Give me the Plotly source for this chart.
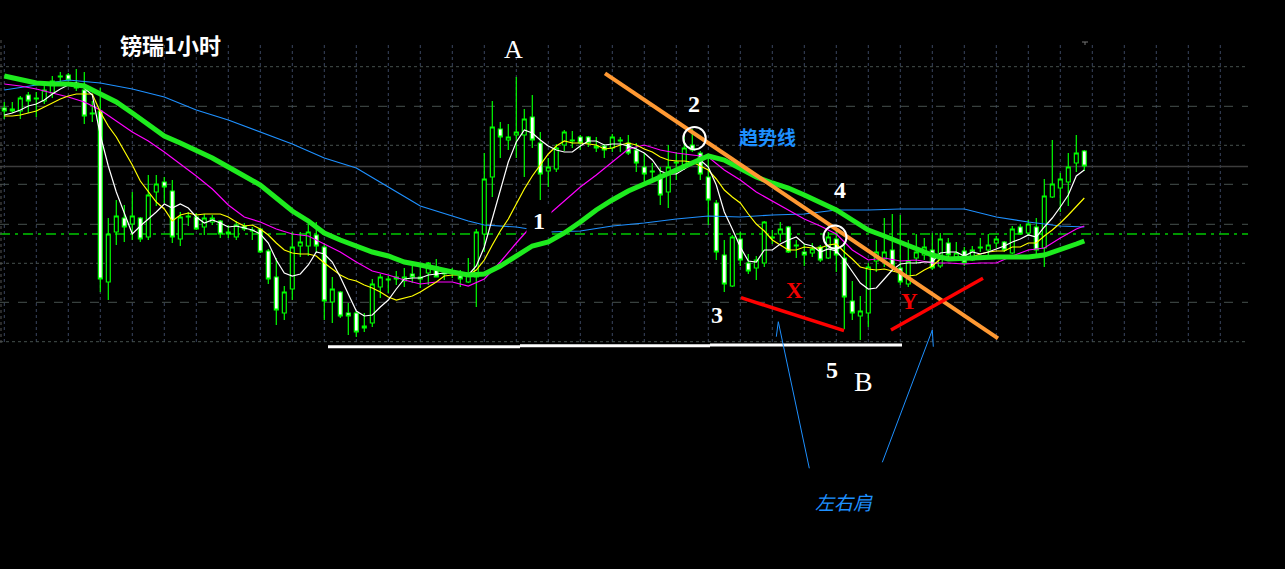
import plotly.graph_objects as go

# Prices are stored as pips below a reference level (REF).
REF = 1.3600
PIP = 0.0001

opens = [108, 109, 111, 95, 98, 101, 93, 77, 75, 83,
         90, 113, 111, 282, 232, 218, 224, 218, 237, 192,
         182, 191, 239, 217, 217, 227, 222, 221, 232, 237,
         226, 231, 229, 251, 277, 313, 289, 246, 246, 235,
         247, 302, 292, 313, 313, 328, 323, 287, 280, 277,
         281, 274, 279, 273, 267, 274, 271, 276, 282, 277,
         234, 177, 129, 140, 135, 135, 117, 143, 171, 169,
         145, 141, 137, 137, 146, 146, 148, 141, 143, 150,
         167, 172, 175, 192, 163, 165, 145, 153, 177, 203,
         255, 286, 239, 263, 268, 263, 238, 234, 227, 246,
         252, 253, 247, 258, 239, 258, 301, 316, 313, 261,
         259, 250, 268, 284, 258, 255, 250, 266, 243, 257,
         251, 260, 248, 250, 243, 242, 253, 227, 233, 227,
         248, 197, 188, 182, 163, 151]
highs = [102, 102, 96, 92, 92, 85, 76, 72, 73, 69,
         72, 101, 88, 218, 200, 205, 192, 217, 175, 175,
         177, 180, 212, 212, 213, 214, 215, 220, 225, 221,
         223, 227, 228, 249, 258, 286, 232, 232, 224, 222,
         243, 277, 291, 303, 311, 313, 279, 274, 276, 271,
         268, 265, 264, 262, 259, 269, 268, 270, 258, 229,
         153, 101, 122, 124, 77, 109, 95, 132, 158, 144,
         130, 131, 135, 136, 137, 144, 134, 137, 135, 143,
         153, 163, 167, 145, 152, 135, 129, 151, 158, 200,
         240, 235, 232, 254, 256, 221, 230, 222, 226, 240,
         244, 243, 245, 232, 231, 245, 281, 296, 263, 240,
         218, 214, 215, 240, 234, 238, 233, 233, 238, 242,
         247, 246, 238, 234, 236, 241, 226, 224, 220, 218,
         179, 140, 173, 153, 135, 150]
lows = [119, 113, 119, 113, 117, 104, 98, 82, 81, 91,
        124, 122, 292, 300, 245, 242, 240, 242, 240, 206,
        203, 243, 246, 226, 230, 235, 225, 238, 238, 240,
        231, 240, 253, 284, 325, 320, 300, 257, 256, 253,
        320, 323, 318, 335, 337, 332, 327, 298, 293, 285,
        287, 283, 288, 285, 277, 280, 278, 287, 283, 307,
        252, 197, 158, 150, 158, 177, 148, 200, 187, 172,
        151, 148, 150, 147, 152, 158, 152, 152, 155, 172,
        182, 178, 205, 208, 180, 170, 152, 180, 225, 260,
        292, 287, 266, 274, 280, 267, 244, 242, 253, 258,
        266, 257, 262, 259, 272, 329, 320, 340, 327, 272,
        267, 270, 285, 287, 264, 260, 270, 268, 259, 258,
        266, 261, 252, 258, 248, 252, 254, 235, 236, 257,
        267, 198, 212, 206, 172, 171]
closes = [111, 111, 98, 101, 99, 90, 81, 76, 80, 88,
          116, 114, 279, 234, 216, 227, 216, 239, 195, 184,
          187, 237, 217, 216, 229, 218, 218, 234, 234, 225,
          229, 230, 252, 279, 310, 292, 247, 242, 232, 246,
          301, 289, 316, 316, 332, 326, 284, 277, 279, 279,
          277, 277, 277, 263, 277, 273, 273, 279, 273, 232,
          179, 127, 137, 137, 132, 119, 140, 174, 167, 148,
          132, 140, 143, 143, 148, 150, 137, 140, 153, 163,
          174, 171, 195, 167, 162, 148, 150, 174, 200, 252,
          284, 237, 260, 271, 260, 222, 237, 229, 252, 245,
          255, 249, 260, 237, 255, 297, 313, 311, 267, 252,
          252, 266, 282, 261, 252, 247, 268, 239, 255, 253,
          263, 250, 247, 245, 239, 250, 229, 234, 224, 250,
          196, 184, 179, 167, 153, 166]

# Moving-average lines (pips below REF)
ma_white = [115, 113, 110, 106, 104, 100, 94, 89, 85, 83,
            88, 95, 135, 166, 192, 214, 234, 226, 219, 212,
            204, 208, 204, 208, 217, 223, 220, 223, 227, 226,
            228, 230, 234, 243, 260, 273, 276, 274, 265, 252,
            254, 262, 277, 294, 311, 316, 315, 307, 300, 289,
            279, 278, 278, 275, 274, 273, 273, 273, 275, 266,
            247, 218, 190, 162, 142, 130, 133, 140, 146, 150,
            152, 152, 146, 141, 141, 145, 144, 144, 146, 149,
            153, 160, 171, 174, 174, 169, 164, 160, 167, 185,
            212, 229, 247, 261, 262, 250, 250, 244, 240, 237,
            244, 246, 252, 249, 251, 260, 272, 283, 289, 288,
            279, 270, 264, 263, 263, 262, 262, 253, 252, 252,
            256, 252, 254, 252, 249, 246, 242, 239, 235, 237,
            227, 218, 207, 195, 176, 170]
ma_yellow = [116, 116, 115, 113, 111, 107, 103, 99, 96, 94,
             94, 94, 112, 126, 137, 151, 165, 181, 192, 202,
             209, 221, 215, 213, 215, 214, 214, 214, 217, 222,
             226, 225, 229, 235, 243, 250, 253, 254, 254, 256,
             263, 269, 275, 279, 281, 285, 288, 292, 297, 300,
             298, 296, 292, 287, 282, 276, 275, 275, 275, 270,
             260, 245, 231, 219, 204, 189, 176, 165, 154, 146,
             141, 143, 143, 144, 145, 149, 148, 145, 143, 145,
             149, 152, 157, 160, 161, 161, 162, 166, 170, 179,
             190, 197, 203, 214, 224, 231, 240, 245, 250, 250,
             247, 248, 248, 245, 244, 252, 259, 267, 269, 270,
             269, 271, 273, 276, 275, 270, 266, 259, 257, 258,
             259, 257, 254, 252, 251, 251, 247, 247, 243, 243,
             236, 230, 223, 215, 207, 198]
ma_magenta_idx = list(range(0, 135, 2)) + [135]
ma_magenta = [84, 86, 89, 93, 97, 102, 110, 121, 132, 141,
              152, 164, 176, 189, 205, 217, 222, 229, 234, 236,
              244, 252, 262, 271, 275, 280, 284, 282, 282, 286,
              279, 262, 243, 225, 215, 201, 187, 175, 162, 149,
              145, 150, 153, 155, 157, 170, 180, 192, 201, 210,
              219, 226, 234, 250, 260, 258, 261, 260, 263, 263,
              264, 263, 263, 256, 250, 248, 238, 229, 226]
ma_green_idx = list(range(0, 135, 2)) + [135]
ma_green = [76, 80, 83, 84, 84, 86, 94, 102, 113, 124,
            136, 143, 150, 158, 167, 176, 185, 198, 211, 221,
            233, 240, 246, 252, 256, 262, 265, 269, 272, 275,
            274, 266, 256, 246, 242, 233, 222, 210, 200, 191,
            184, 177, 170, 162, 156, 160, 168, 177, 183, 188,
            195, 203, 210, 220, 230, 236, 242, 248, 255, 259,
            258, 258, 257, 257, 257, 255, 250, 244, 241]
ma_blue_idx = [0, 4, 8, 12, 16, 20, 24, 28, 32, 36, 40, 44, 48, 52, 56, 58,
               60, 64, 68, 72, 76, 80, 84, 88, 92, 96, 100, 104, 108, 112,
               116, 120, 124, 128, 132, 135]
ma_blue = [90, 85, 80, 83, 89, 97, 110, 120, 132, 144, 158, 168, 187, 206, 216, 221,
           225, 227, 232, 231, 226, 223, 219, 216, 217, 215, 214, 210, 210, 209,
           209, 209, 217, 222, 226, 227]


def price(vals):
    return [REF - v * PIP for v in vals]


# picture position helpers for decorations (candle i is centred at 4.3 + 8 i px)
def px(xp):
    return (xp - 4.3) / 8.0


def py(yp):
    return REF - yp * PIP


idx = list(range(len(closes)))

fig = go.Figure()

fig.add_trace(go.Scatter(x=ma_blue_idx, y=price(ma_blue), mode='lines',
                         line=dict(color='#1E90FF', width=1.2), hoverinfo='skip'))
fig.add_trace(go.Scatter(x=ma_magenta_idx, y=price(ma_magenta), mode='lines',
                         line=dict(color='#FF00FF', width=1.2), hoverinfo='skip'))
fig.add_trace(go.Scatter(x=idx, y=price(ma_yellow), mode='lines',
                         line=dict(color='#FFFF00', width=1.2), hoverinfo='skip'))
fig.add_trace(go.Scatter(x=idx, y=price(ma_white), mode='lines',
                         line=dict(color='#FFFFFF', width=1.2), hoverinfo='skip'))
fig.add_trace(go.Scatter(x=ma_green_idx, y=price(ma_green), mode='lines',
                         line=dict(color='#1EEB1E', width=5), hoverinfo='skip'))

fig.add_trace(go.Candlestick(
    x=idx, open=price(opens), high=price(highs), low=price(lows), close=price(closes),
    increasing=dict(line=dict(color='#00FF00', width=1.2), fillcolor='#000000'),
    decreasing=dict(line=dict(color='#00FF00', width=1.2), fillcolor='#FFFFFF'),
    whiskerwidth=0, hoverinfo='skip'))

shapes = []
# grid
for k in range(0, 39):
    shapes.append(dict(type='line', layer='below', xref='x', yref='y',
                       x0=4 * k, x1=4 * k, y0=py(45), y1=py(342),
                       line=dict(color='#3A4560', width=1, dash='dot')))
for yy, d in [(66.7, 'dot'), (106.3, 'dash'), (145.3, 'dot'), (184.3, 'dash'),
              (224.3, 'dash'), (263.3, 'dot'), (302.3, 'dash'), (341.7, 'dot')]:
    shapes.append(dict(type='line', layer='below', xref='x', yref='y',
                       x0=px(0), x1=px(1248), y0=py(yy), y1=py(yy),
                       line=dict(color='#46504E', width=1, dash=d)))
shapes.append(dict(type='line', layer='below', xref='x', yref='y',
                   x0=px(0), x1=px(1248), y0=py(166.5), y1=py(166.5),
                   line=dict(color='#3C3C3C', width=1.5)))
shapes.append(dict(type='line', layer='below', xref='x', yref='y',
                   x0=px(0), x1=px(1248), y0=py(234), y1=py(234),
                   line=dict(color='#00C800', width=1.5, dash='10px,5px,3px,5px')))
shapes.append(dict(type='line', layer='below', xref='x', yref='y',
                   x0=px(1), x1=px(1), y0=py(40), y1=py(345),
                   line=dict(color='#555555', width=1, dash='dot')))
shapes.append(dict(type='line', xref='x', yref='y', x0=px(1082), x1=px(1088),
                   y0=py(42), y1=py(42), line=dict(color='#777777', width=1)))
shapes.append(dict(type='line', xref='x', yref='y', x0=px(1085), x1=px(1085),
                   y0=py(42), y1=py(45), line=dict(color='#777777', width=1)))

# drawings
shapes.append(dict(type='line', xref='x', yref='y', x0=px(605), y0=py(73.3),
                   x1=px(998), y1=py(338.3), line=dict(color='#FF9933', width=4)))
shapes.append(dict(type='line', xref='x', yref='y', x0=px(741), y0=py(297.7),
                   x1=px(844), y1=py(330.7), line=dict(color='#FF0000', width=3.5)))
shapes.append(dict(type='line', xref='x', yref='y', x0=px(891), y0=py(330),
                   x1=px(983), y1=py(278.3), line=dict(color='#FF0000', width=3.5)))
for xa, xb, yy in [(328, 520, 346.7), (520, 710, 345.8), (710, 902, 345)]:
    shapes.append(dict(type='line', xref='x', yref='y', x0=px(xa), x1=px(xb),
                       y0=py(yy), y1=py(yy), line=dict(color='#FFFFFF', width=3)))
for (xa, ya, xb, yb) in [(809.3, 468.3, 778.3, 321.7), (778.3, 321.7, 776.3, 336.7),
                         (882.3, 462.3, 932.3, 330), (932.3, 330, 933.3, 346.7)]:
    shapes.append(dict(type='line', xref='x', yref='y', x0=px(xa), y0=py(ya),
                       x1=px(xb), y1=py(yb), line=dict(color='#1E90FF', width=1)))
for (cx, cy, r) in [(694.5, 138.2, 11.2), (835, 237, 11.5)]:
    shapes.append(dict(type='circle', xref='x', yref='y', x0=px(cx - r), x1=px(cx + r),
                       y0=py(cy + r), y1=py(cy - r), line=dict(color='#FFFFFF', width=2)))

SERIF = 'Liberation Serif, DejaVu Serif, serif'
CJK = 'Noto Sans CJK SC, sans-serif'


def label(text, xp, yp, size, color='#FFFFFF', family=SERIF, weight=400,
          style='normal', bg=None, w=None, h=None):
    d = dict(text=text, x=px(xp), y=py(yp), xref='x', yref='y', showarrow=False,
             xanchor='center', yanchor='middle',
             font=dict(size=size, color=color, family=family, weight=weight, style=style))
    if bg:
        d['bgcolor'] = bg
    if w:
        d['width'] = w
    if h:
        d['height'] = h
    return d


annotations = [
    label('镑瑞1小时', 170, 44, 22, family=CJK, weight=700),
    label('A', 513.5, 49.5, 26),
    label('2', 694, 103.5, 24, weight=700),
    label('趋势线', 767.5, 136.5, 19, color='#1E90FF', family=CJK, weight=700),
    label('4', 839.5, 190, 24, weight=700),
    label('1', 538.5, 221, 24, weight=700, bg='#000000', w=22, h=28),
    label('3', 717, 315, 24, weight=700),
    label('X', 794.5, 290.5, 23, color='#F00000', weight=700),
    label('Y', 909.5, 301.5, 23, color='#F00000', weight=700),
    label('5', 832, 370, 24, weight=700),
    label('B', 863.3, 381.7, 28),
    label('左右肩', 844, 501, 19, color='#1E90FF', family=CJK, style='italic'),
]

fig.update_layout(
    width=1285, height=569,
    margin=dict(l=0, r=0, t=0, b=0),
    paper_bgcolor='#000000', plot_bgcolor='#000000',
    showlegend=False, hovermode=False,
    xaxis=dict(range=[px(0), px(1285)], visible=False, fixedrange=True,
               rangeslider=dict(visible=False)),
    yaxis=dict(range=[py(569), py(0)], visible=False, fixedrange=True),
    shapes=shapes, annotations=annotations,
)

fig.write_html("out.html", config={'displayModeBar': False},
               post_script="document.body.style.margin='0';document.body.style.overflow='hidden';")
